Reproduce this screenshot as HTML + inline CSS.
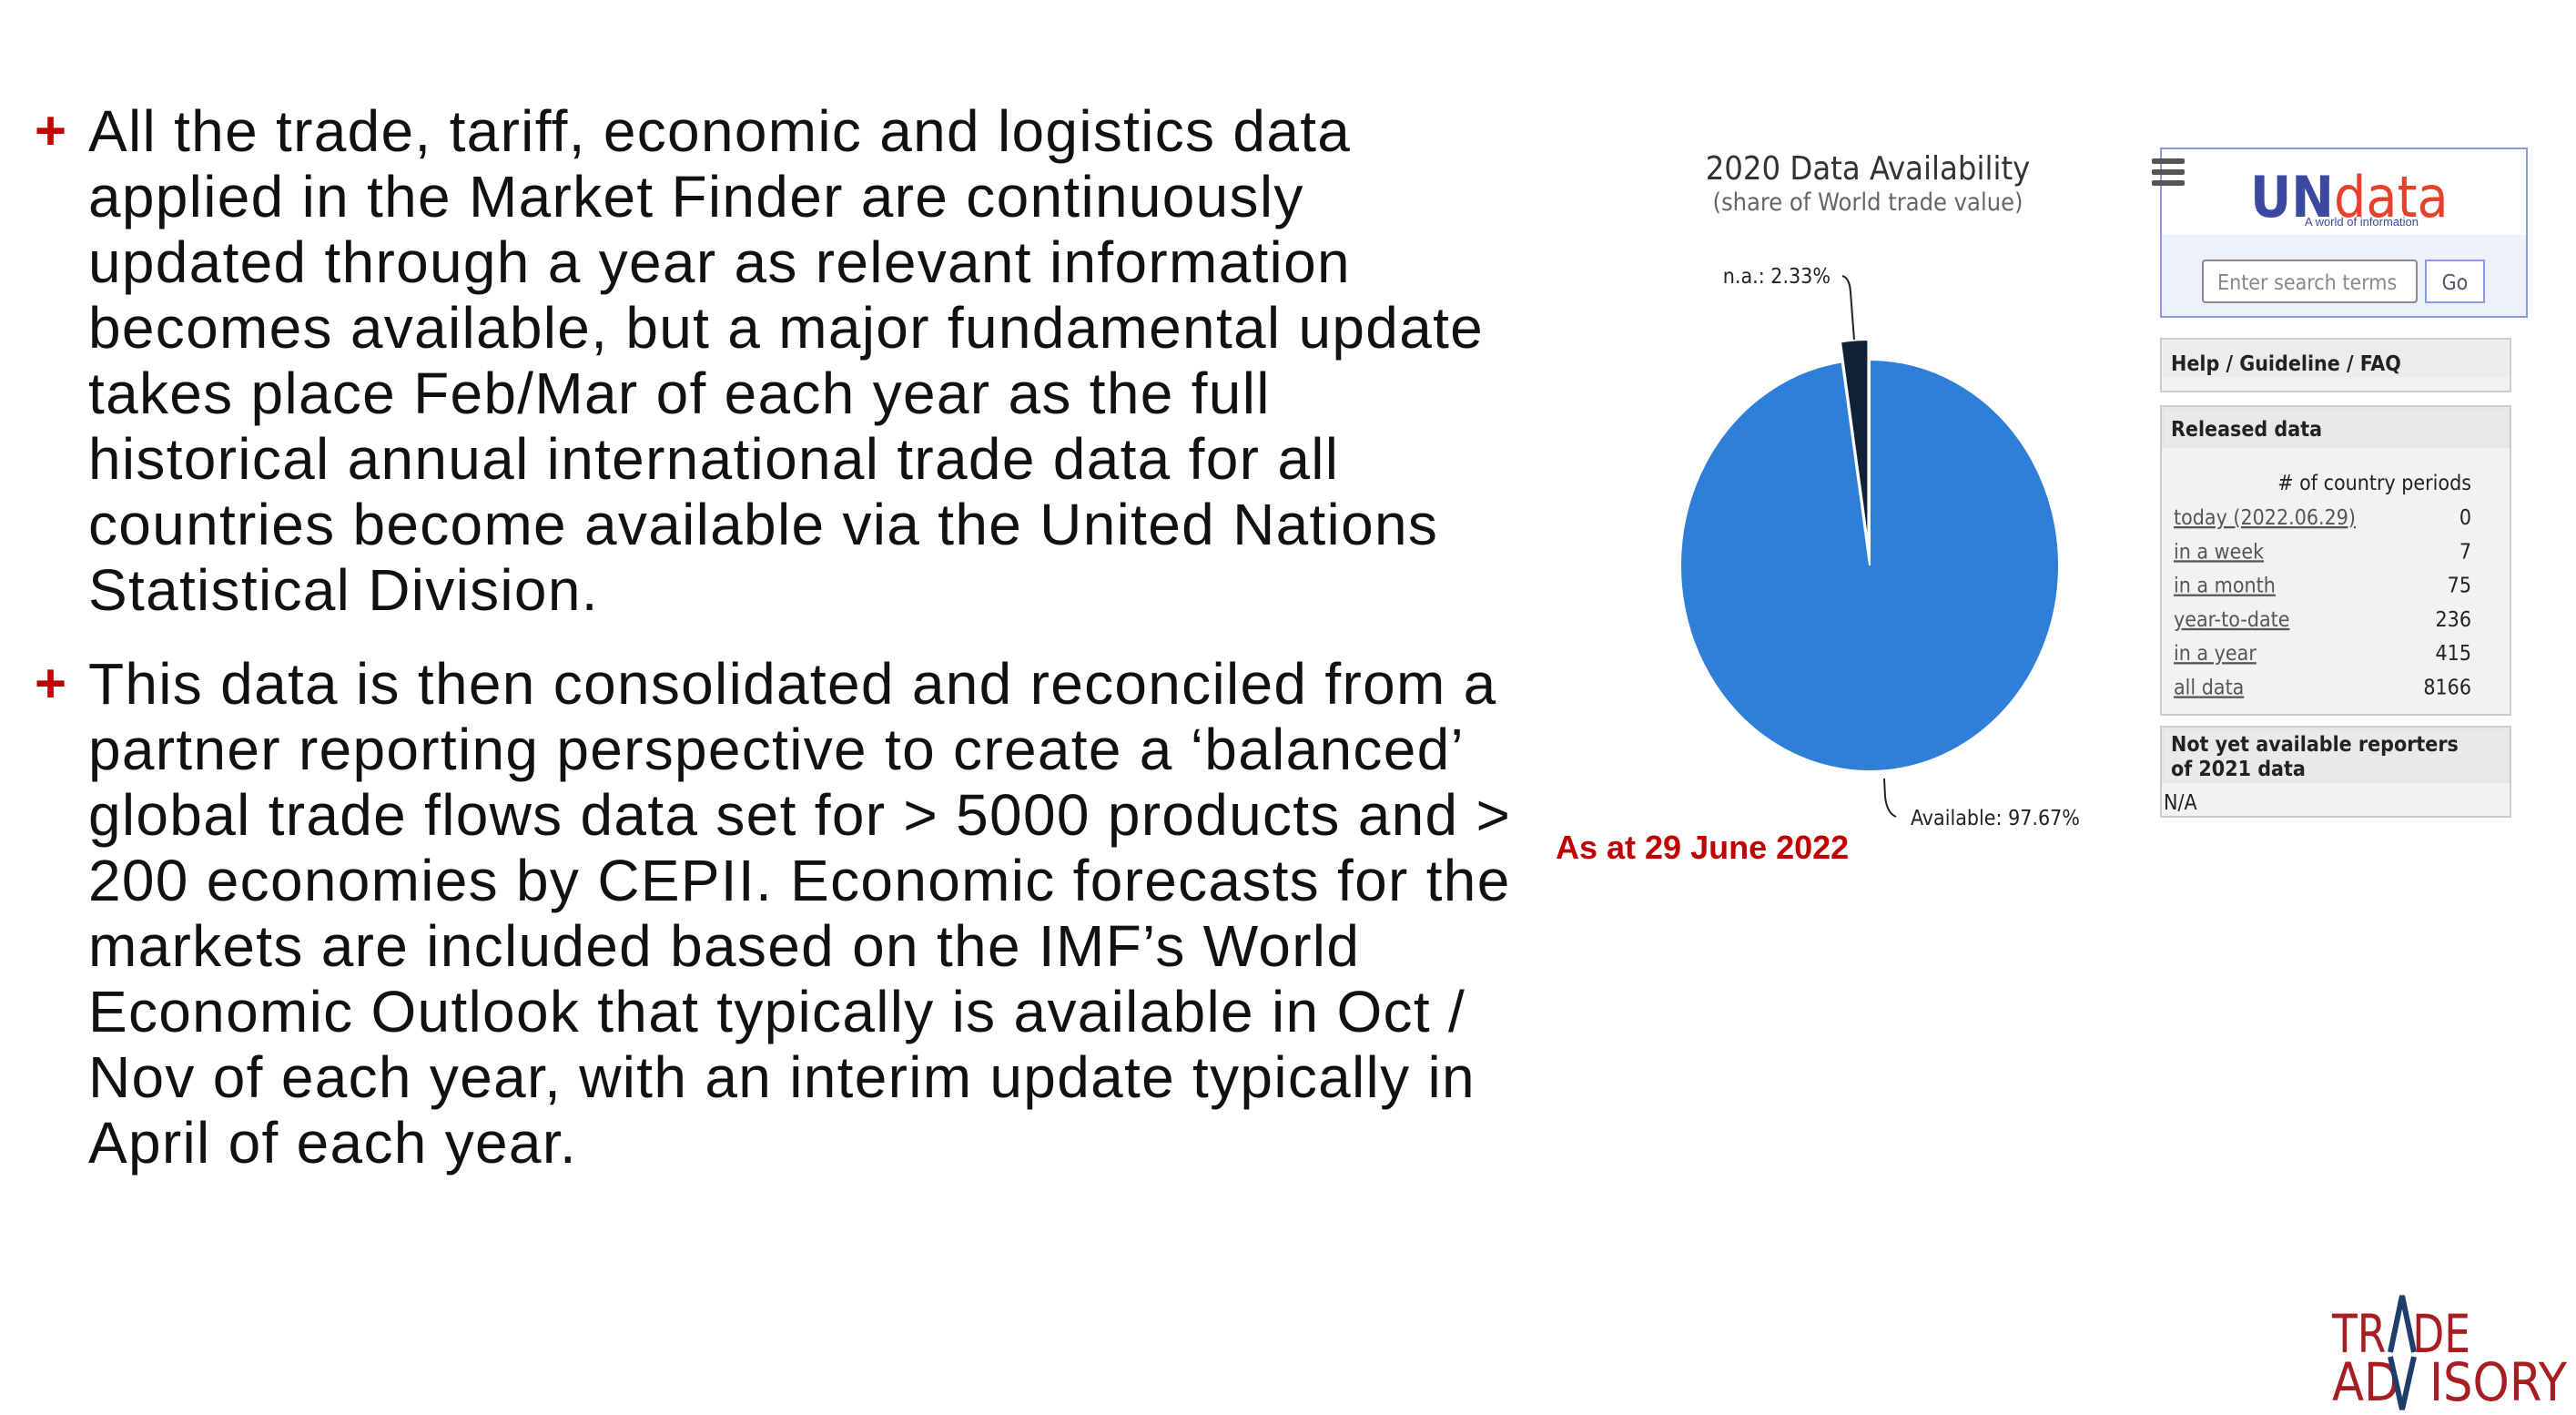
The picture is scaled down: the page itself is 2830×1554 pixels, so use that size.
<!DOCTYPE html>
<html><head><meta charset="utf-8"><style>
html,body{margin:0;padding:0;background:#fff;}
svg{display:block;}
.body{font-family:"Liberation Sans",sans-serif;font-size:64px;letter-spacing:1.3px;fill:#111;}
.plus{font-family:"Liberation Sans",sans-serif;font-size:60px;fill:#c00000;font-weight:bold;}
.sm{font-family:"DejaVu Sans Condensed","Liberation Sans",sans-serif;font-size:23px;fill:#222;}
.lnk{text-decoration:underline;fill:#555;}
</style></head><body>
<svg id="s" width="2830" height="1554" viewBox="0 0 2830 1554" xmlns="http://www.w3.org/2000/svg">
<text class="plus" x="38" y="164">+</text>
<g class="body">
<text x="97" y="166">All the trade, tariff, economic and logistics data</text>
<text x="97" y="238">applied in the Market Finder are continuously</text>
<text x="97" y="310">updated through a year as relevant information</text>
<text x="97" y="382">becomes available, but a major fundamental update</text>
<text x="97" y="454">takes place Feb/Mar of each year as the full</text>
<text x="97" y="526">historical annual international trade data for all</text>
<text x="97" y="598">countries become available via the United Nations</text>
<text x="97" y="670">Statistical Division.</text>
</g>
<text class="plus" x="38" y="771">+</text>
<g class="body">
<text x="97" y="773">This data is then consolidated and reconciled from a</text>
<text x="97" y="845">partner reporting perspective to create a ‘balanced’</text>
<text x="97" y="917">global trade flows data set for &gt; 5000 products and &gt;</text>
<text x="97" y="989">200 economies by CEPII. Economic forecasts for the</text>
<text x="97" y="1061">markets are included based on the IMF’s World</text>
<text x="97" y="1133">Economic Outlook that typically is available in Oct /</text>
<text x="97" y="1205">Nov of each year, with an interim update typically in</text>
<text x="97" y="1277">April of each year.</text>
</g>

<text x="2052" y="197" text-anchor="middle" font-family="DejaVu Sans Condensed,Liberation Sans,sans-serif" font-size="36" fill="#333">2020 Data Availability</text>
<text x="2052" y="231" text-anchor="middle" font-family="DejaVu Sans Condensed,Liberation Sans,sans-serif" font-size="27" fill="#666">(share of World trade value)</text>
<g id="pie"></g>
<path d="M2024 303 q8 2 9 18 l4 52" fill="none" stroke="#222" stroke-width="2"/>
<text class="sm" x="2011" y="311" text-anchor="end">n.a.: 2.33%</text>
<path d="M2070 855 l1 20 q2 18 12 22" fill="none" stroke="#222" stroke-width="2"/>
<text class="sm" x="2099" y="906">Available: 97.67%</text>
<text x="1709" y="943" font-family="Liberation Sans,sans-serif" font-weight="bold" font-size="36" fill="#c00000">As at 29 June 2022</text>

<rect x="2374" y="163" width="402" height="185" fill="#fff" stroke="#8a99e0" stroke-width="2"/>
<rect x="2375" y="258" width="400" height="89" fill="#eef0fb"/>
<g><rect x="2364" y="174" width="36" height="6" rx="2" fill="#555"/><rect x="2364" y="186" width="36" height="6" rx="2" fill="#555"/><rect x="2364" y="198" width="36" height="6" rx="2" fill="#555"/></g>
<text x="2472" y="238" font-family="DejaVu Sans Condensed,Liberation Sans,sans-serif" font-weight="bold" font-size="62" fill="#3b4aa0">UN<tspan fill="#e8402a" font-weight="normal">data</tspan></text>
<text x="2532" y="248" font-family="Liberation Sans,sans-serif" font-size="13" fill="#3b4aa0">A world of information</text>
<rect x="2420" y="286" width="235" height="46" rx="3" fill="#fff" stroke="#888" stroke-width="2"/>
<text class="sm" x="2436" y="318" style="fill:#888">Enter search terms</text>
<rect x="2665" y="286" width="64" height="46" fill="#fff" stroke="#8a99e0" stroke-width="2"/>
<text class="sm" x="2697" y="318" text-anchor="middle" style="fill:#556">Go</text>

<rect x="2374" y="372" width="384" height="58" fill="#f2f2f2" stroke="#ccc" stroke-width="2"/>
<rect x="2376" y="374" width="380" height="40" fill="#ececec"/>
<text class="sm" x="2385" y="407" font-weight="bold">Help / Guideline / FAQ</text>

<rect x="2374" y="446" width="384" height="339" fill="#f2f2f2" stroke="#ccc" stroke-width="2"/>
<rect x="2376" y="448" width="380" height="43" fill="#e9e9e9" stroke="#ddd"/>
<text class="sm" x="2385" y="479" font-weight="bold">Released data</text>
<text class="sm" x="2715" y="538" text-anchor="end">#&#160;of country periods</text>
<g id="rows"></g>

<rect x="2374" y="798" width="384" height="99" fill="#f2f2f2" stroke="#ccc" stroke-width="2"/>
<rect x="2376" y="800" width="380" height="59" fill="#e9e9e9" stroke="#ddd"/>
<text class="sm" x="2385" y="825" font-weight="bold">Not yet available reporters</text>
<text class="sm" x="2385" y="852" font-weight="bold">of 2021 data</text>
<text class="sm" x="2377" y="889">N/A</text>

<g font-family="DejaVu Sans Condensed,Liberation Sans,sans-serif" font-size="58" fill="#a61e22">
<text x="2562" y="1485" textLength="152" lengthAdjust="spacingAndGlyphs">TR&#160; DE</text>
<text x="2562" y="1538" textLength="258" lengthAdjust="spacingAndGlyphs">AD&#160; ISORY</text>
<path d="M2626 1485 L2639 1423 L2652 1485" fill="none" stroke="#1f3d6b" stroke-width="6"/>
<path d="M2626 1490 L2639 1548 L2652 1490" fill="none" stroke="#1f3d6b" stroke-width="6"/>
</g>
</svg>
<script>
const sliceLabels=["Available","n.a."];
const sliceValues=[97.67,2.33];
const sliceColors=["#2f7ed8","#0f2137"];
const rowLabels=["today (2022.06.29)","in a week","in a month","year-to-date","in a year","all data"];
const rowValues=[0,7,75,236,415,8166];
const NS="http://www.w3.org/2000/svg";
const cx=2054,cy=621,rx=208,ry=226;
const pie=document.getElementById('pie');
const total=sliceValues.reduce((a,b)=>a+b,0);
let start=0;
function pt(a,ox,oy){return [cx+ox+rx*Math.sin(a),cy+oy-ry*Math.cos(a)];}
sliceValues.forEach((v,i)=>{
  const ang=v/total*2*Math.PI;
  const a0=start,a1=start+ang,mid=(a0+a1)/2;
  const off=i===1?22:0;
  const ox=off*Math.sin(mid),oy=-off*Math.cos(mid);
  const p0=pt(a0,ox,oy),p1=pt(a1,ox,oy);
  const large=ang>Math.PI?1:0;
  const p=document.createElementNS(NS,'path');
  p.setAttribute('d',`M${cx+ox} ${cy+oy} L${p0[0]} ${p0[1]} A${rx} ${ry} 0 ${large} 1 ${p1[0]} ${p1[1]} Z`);
  p.setAttribute('fill',sliceColors[i]);
  p.setAttribute('stroke','#fff');p.setAttribute('stroke-width','2');
  
  
  pie.appendChild(p);
  start=a1;
});
const rows=document.getElementById('rows');
rowLabels.forEach((l,i)=>{
  const y=576+i*37.3;
  const t=document.createElementNS(NS,'text');
  t.setAttribute('class','sm lnk');t.setAttribute('x','2388');t.setAttribute('y',y);
  t.textContent=l;
  
  
  rows.appendChild(t);
  const v=document.createElementNS(NS,'text');
  v.setAttribute('class','sm');v.setAttribute('x','2715');v.setAttribute('y',y);v.setAttribute('text-anchor','end');
  v.textContent=rowValues[i];
  
  
  rows.appendChild(v);
});
</script>
</body></html>
